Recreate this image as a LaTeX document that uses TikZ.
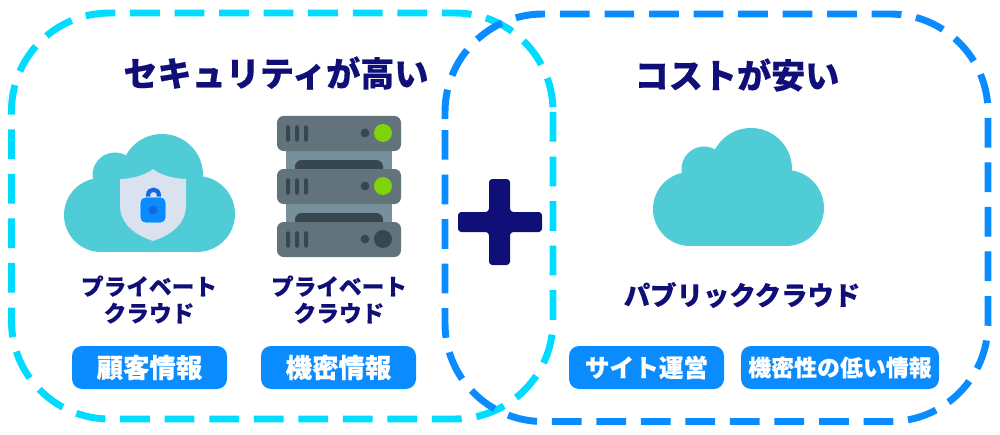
\documentclass[tikz,border=0pt]{standalone}
\usepackage{fontspec}
\newfontfamily\jpfont[BoldFeatures={FakeBold=0.3}]{Noto Sans CJK JP}
\definecolor{edgecyan}{HTML}{00DCFF}
\definecolor{edgeblue}{HTML}{0A8CFF}
\definecolor{navy}{HTML}{100F78}
\definecolor{cloudteal}{HTML}{4FCCD6}
\definecolor{shieldgrey}{HTML}{DAE2F0}
\definecolor{lockblue}{HTML}{1566E0}
\definecolor{unitgrey}{HTML}{62737C}
\definecolor{backgrey}{HTML}{78909C}
\definecolor{darkgrey}{HTML}{37474F}
\definecolor{ledgreen}{HTML}{7ED30A}
\tikzset{
  dashedge/.style={line width=5.2pt,dash pattern=on 22.3pt off 11.1pt,rounded corners=73.5pt},
  headtext/.style={font=\jpfont\bfseries\fontsize{25.6}{30}\selectfont,text=navy,inner sep=0pt},
  labeltext/.style={font=\jpfont\bfseries\fontsize{17}{20}\selectfont,text=navy,inner sep=0pt,align=center},
  tagbox/.style={fill=edgeblue,rounded corners=7.5pt,text=white,inner sep=0pt,minimum height=32.25pt,font=\jpfont\bfseries\fontsize{19.8}{23}\selectfont},
  cloudpart/.style={fill=cloudteal,draw=none},
  unitbox/.style={fill=unitgrey,draw=none,rounded corners=5pt},
  slotbox/.style={fill=darkgrey,draw=none,rounded corners=5pt},
  ventbar/.style={fill=darkgrey,draw=none,rounded corners=1.4pt}
}
\begin{document}
\begin{tikzpicture}[x=0.75pt,y=0.75pt,yscale=-1,xscale=1]
    \useasboundingbox (0,0) rectangle (1000,435);

    %Dashed round boxes
    \draw [dashedge,edgecyan] (553,112) -- (553,419) -- (11.5,419) -- (11.5,13) -- (553,13) -- (553,112) ;
    \draw [dashedge,edgeblue] (445,130) -- (445,421.5) -- (988,421.5) -- (988,14) -- (445,14) -- (445,130) ;

    %Plus sign
    \fill [navy,rounded corners=2.5pt] (489,179) -- (510,179) -- (510,212) -- (542,212) -- (542,232) -- (510,232) -- (510,265) -- (489,265) -- (489,232) -- (458,232) -- (458,212) -- (489,212) -- cycle ;

    %Private cloud
    \path [cloudpart] (101,215) circle [radius=37] ;
    \path [cloudpart] (197,214) circle [radius=38] ;
    \path [cloudpart] (162,175) circle [radius=41] ;
    \path [cloudpart] (115,175) circle [radius=22.5] ;
    \path [cloudpart] (101,178) rectangle (197,252) ;
    %Shield
    \fill [shieldgrey] (153,169) .. controls (160,175) and (175,179) .. (186,179) -- (186,205) .. controls (186,226) and (168,236) .. (153,241) .. controls (138,236) and (120,226) .. (120,205) -- (120,179) .. controls (131,179) and (146,175) .. (153,169) -- cycle ;
    %Lock
    \draw [lockblue,line width=3.2pt] (148.2,199) -- (148.2,195) .. controls (148.2,188) and (158.8,188) .. (158.8,195) -- (158.8,199) ;
    \filldraw [fill=edgeblue,draw=white,line width=0.4pt,rounded corners=4pt] (140,197) rectangle (166,223) ;
    \fill [lockblue] (153,210) circle [radius=4.5] ;

    %Server rack
    \fill [backgrey] (286,150) rectangle (392,223) ;
    \path [slotbox] (295,180) -- (295,160) -- (383,160) -- (383,180) -- cycle ;
    \path [slotbox] (295,233) -- (295,213) -- (383,213) -- (383,233) -- cycle ;
    \path [unitbox] (277,116) rectangle (401,151) ;
    \path [unitbox] (277,169) rectangle (401,204) ;
    \path [unitbox] (277,222) rectangle (401,257) ;
    \path [ventbar] (286,125) rectangle (290,142) ;
    \path [ventbar] (295,125) rectangle (299,142) ;
    \path [ventbar] (304,125) rectangle (308,142) ;
    \path [ventbar] (286,178) rectangle (290,195) ;
    \path [ventbar] (295,178) rectangle (299,195) ;
    \path [ventbar] (304,178) rectangle (308,195) ;
    \path [ventbar] (286,231) rectangle (290,248) ;
    \path [ventbar] (295,231) rectangle (299,248) ;
    \path [ventbar] (304,231) rectangle (308,248) ;
    \fill [darkgrey] (365,133) circle [radius=4.4] ;
    \fill [darkgrey] (365,186) circle [radius=4.4] ;
    \fill [darkgrey] (365,239) circle [radius=4.4] ;
    \fill [ledgreen] (383,133) circle [radius=9] ;
    \fill [ledgreen] (383,186) circle [radius=9] ;
    \fill [darkgrey] (383,239) circle [radius=9] ;

    %Public cloud
    \path [cloudpart] (690,209) circle [radius=37] ;
    \path [cloudpart] (786,208) circle [radius=38] ;
    \path [cloudpart] (751,169) circle [radius=41] ;
    \path [cloudpart] (704,169) circle [radius=22.5] ;
    \path [cloudpart] (690,172) rectangle (786,246) ;

    % Text Node
    \node (securehead) at (276,73) [headtext] {セキュリティが高い};
    \node (costhead) at (737,75) [headtext] {コストが安い};
    \node (cloudlabel) at (149,299.5) [labeltext] {プライベート\\クラウド};
    \node (serverlabel) at (339,299.5) [labeltext] {プライベート\\クラウド};
    \node (publiclabel) at (742,295) [labeltext,font=\jpfont\bfseries\fontsize{19.8}{23}\selectfont] {パブリッククラウド};
    \node (customertag) at (149.5,367.5) [tagbox,minimum width=116.25pt] {顧客情報};
    \node (secrettag) at (338.5,367.5) [tagbox,minimum width=116.25pt] {機密情報};
    \node (sitetag) at (646.5,367.5) [tagbox,minimum width=116.25pt,font=\jpfont\bfseries\fontsize{18.5}{23}\selectfont] {サイト運営};
    \node (lowtag) at (840,367.5) [tagbox,minimum width=148.5pt,font=\jpfont\bfseries\fontsize{17.2}{20}\selectfont] {機密性の低い情報};
\end{tikzpicture}
\end{document}
